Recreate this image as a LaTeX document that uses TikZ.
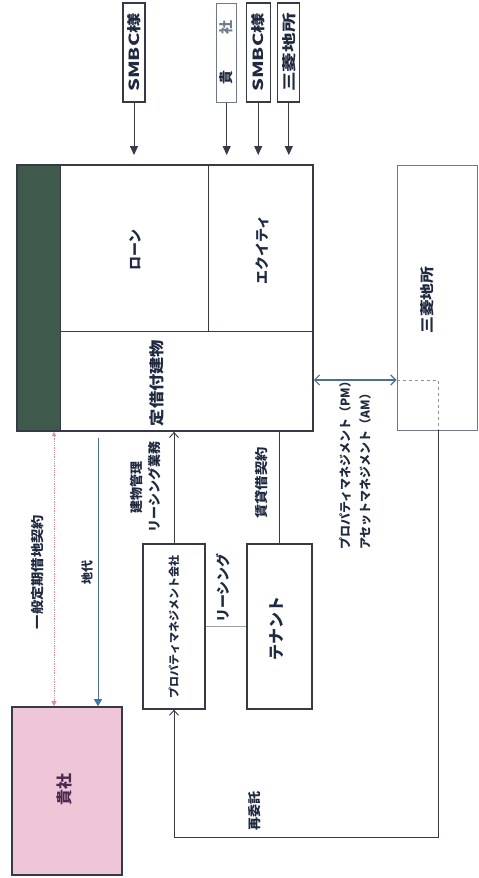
\documentclass[tikz,border=0pt]{standalone}
\usepackage{fontspec}
\usepackage{graphicx}
\setmainfont{Noto Sans CJK JP}
\usetikzlibrary{arrows.meta}
\definecolor{ink}{HTML}{1F2940}
\definecolor{frame}{HTML}{353A44}
\definecolor{stripc}{HTML}{3F5A4C}
\definecolor{pinkfill}{HTML}{EFC6D8}
\definecolor{bluel}{HTML}{4F6F92}
\definecolor{bluetip}{HTML}{2C7DBE}
\definecolor{redl}{HTML}{E38AA0}
\definecolor{greyl}{HTML}{6E7A88}
\definecolor{purpletext}{HTML}{4A2A50}
\begin{document}
\begin{tikzpicture}[x=1pt,y=-1pt,
  box/.style={draw=frame, line width=1.3pt, inner sep=0pt},
  part/.style={draw=frame, line width=0.9pt, inner sep=0pt},
  topbox/.style={draw=frame, line width=1.3pt, fill=white, inner sep=0pt, minimum width=22pt, minimum height=99pt},
  lbl/.style={rotate=90, text=ink, inner sep=0pt, font=\fontsize{13}{16}\selectfont\bfseries},
  toparrow/.style={draw=frame, line width=1pt, -{Triangle[width=8pt,length=9pt]}},
  barb/.style={-{Straight Barb[length=5pt,width=9pt]}},
  conn/.style={draw=frame, line width=0.9pt}
]
\useasboundingbox (0,0) rectangle (479,878);
\fill[white] (0,0) rectangle (479,878);

% main structure
\node[fill=stripc, inner sep=0pt, minimum width=43pt, minimum height=266pt] (strip) at (38.5,298) {};
\node[part, minimum width=148pt, minimum height=166pt] (loan) at (134,248) {};
\node[part, minimum width=105pt, minimum height=166pt] (equity) at (260.5,248) {};
\node[part, minimum width=253pt, minimum height=100pt] (bldg) at (186.5,381) {};
\node[draw=frame, line width=1.8pt, inner sep=0pt, minimum width=296pt, minimum height=266pt] (main) at (165,298) {};

\node[lbl, font=\fontsize{14}{16}\selectfont\bfseries] (tloan) at (135,250) {ローン};
\node[lbl, font=\fontsize{14}{16}\selectfont\bfseries] (tequity) at (262,250) {エクイティ};
\node[lbl, font=\fontsize{15}{16}\selectfont\bfseries] (tbldg) at (157,383) {\scalebox{1.15}[1]{定借付建物}};

% Mitsubishi Jisho box
\node[draw=greyl, line width=1pt, inner sep=0pt, minimum width=80pt, minimum height=265pt] (mec) at (437,297.5) {};
\node[lbl, font=\fontsize{14}{16}\selectfont\bfseries] (tmec) at (427,300) {\scalebox{1.2}[1]{三菱地所}};

% top boxes
\node[topbox] (smbca) at (134,52.5) {};
\node[lbl, font=\fontsize{14}{16}\selectfont\bfseries] at (smbca) {\scalebox{1.45}[1]{SMBC様}};
\node[topbox, draw=greyl, line width=1pt, minimum width=20pt] (kishat) at (226.7,52.5) {};
\node[lbl, font=\fontsize{14}{16}\selectfont\bfseries] at (kishat) {貴\hspace{2.6em}\textcolor{greyl}{社}};
\node[topbox, minimum width=24pt] (smbcb) at (258.2,52.5) {};
\node[lbl, font=\fontsize{14}{16}\selectfont\bfseries] at (smbcb) {\scalebox{1.45}[1]{SMBC様}};
\node[topbox] (mect) at (288.8,52.5) {};
\node[lbl, font=\fontsize{14}{16}\selectfont\bfseries] at (mect) {\scalebox{1.4}[1]{三菱地所}};

\coordinate (tipy) at (0,155);
\draw[toparrow] (smbca.south) -- (smbca.south |- tipy);
\draw[toparrow] (kishat.south) -- (kishat.south |- tipy);
\draw[toparrow] (smbcb.south) -- (smbcb.south |- tipy);
\draw[toparrow] (mect.south) -- (mect.south |- tipy);

% lower boxes
\node[box, minimum width=62pt, minimum height=165pt] (pm) at (174,626.5) {};
\node[lbl, font=\fontsize{11}{13}\selectfont\bfseries] (tpm) at (174,627) {プロパティマネジメント会社};
\node[box, minimum width=65pt, minimum height=165pt] (tenant) at (279.5,626.5) {};
\node[lbl, font=\fontsize{16}{18}\selectfont\bfseries] (ttenant) at (277,628) {テナント};

\node[draw=frame, line width=1.6pt, fill=pinkfill, inner sep=0pt, minimum width=110pt, minimum height=168pt] (kisha) at (66.7,791) {};
\node[lbl, font=\fontsize{16}{18}\selectfont\bfseries, text=purpletext] (tkisha) at (64,789) {貴社};

% connectors
\draw[conn, barb] (pm.north) -- (pm.north |- main.south);
\draw[conn] (tenant.north) -- (tenant.north |- main.south);
\draw[draw=greyl!70, line width=0.9pt] (pm.east) -- (tenant.west);

\coordinate (pmy) at (0,380);
\coordinate (c1) at (438,380);
\coordinate (c2) at (438,430);
\coordinate (c3) at (438,837);
\draw[draw=bluel, line width=1.1pt, {Straight Barb[length=5pt,width=10pt]}-{Straight Barb[length=5pt,width=10pt]}] (main.east |- pmy) -- (mec.west |- pmy);
\draw[draw=greyl!80, line width=1pt, dashed] (mec.west |- pmy) -- (c1) -- (c2);
\draw[conn, barb] (c2) -- (c3) -| (pm.south);

\coordinate (lx) at (54,0);
\coordinate (bx) at (98,0);
\draw[draw=redl, line width=0.8pt, densely dotted, {Triangle[width=4pt,length=4pt]}-{Triangle[width=5pt,length=5pt]}] (main.south -| lx) -- (kisha.north -| lx);
\draw[draw=bluel, line width=0.9pt, shorten <=6pt, -{Triangle[width=8pt,length=7pt,fill=bluetip]}] (main.south -| bx) -- (kisha.north -| bx);

% labels
\node[lbl, font=\fontsize{13}{16}\selectfont\bfseries] (tteiki) at (38,572) {\scalebox{1.1}[1]{一般定期借地契約}};
\node[lbl, font=\fontsize{12}{16}\selectfont\bfseries] (tchidai) at (87,572) {地代};
\node[lbl, align=center, font=\fontsize{13}{18}\selectfont\bfseries] (tgyomu) at (146,487) {建物管理\\リーシング業務};
\node[lbl, font=\fontsize{13}{16}\selectfont\bfseries] (tchintai) at (262,483) {\scalebox{1.1}[1]{賃貸借契約}};
\node[lbl, font=\fontsize{14}{16}\selectfont\bfseries] (tleasing) at (223,588) {リーシング};
\node[lbl, anchor=west, align=left, font=\fontsize{12}{20}\selectfont\bfseries] (tpmam) at (355,550) {プロパティマネジメント（PM）\\アセットマネジメント（AM）};
\node[lbl, font=\fontsize{13}{16}\selectfont\bfseries] (tsaiitaku) at (255,811) {再委託};
\end{tikzpicture}
\end{document}
